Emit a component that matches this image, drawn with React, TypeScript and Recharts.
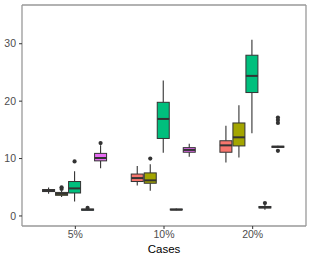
import { Bar, BarChart, XAxis, YAxis } from "recharts";

const cases = ["5%", "10%", "20%"];
const seriesColors = ["#F8766D", "#A3A500", "#00BF7D", "#00B0F6", "#E76BF3"];
const yTicks = [0, 10, 20, 30];

// per case: [lower whisker, q1, median, q3, upper whisker]
const redStats = [
  [3.85, 4.25, 4.4, 4.6, 4.95],
  [5.3, 6.0, 6.6, 7.3, 8.7],
  [9.3, 11.1, 12.3, 13.1, 15.7],
];
const oliveStats = [
  [3.3, 3.6, 3.85, 4.1, 4.4],
  [4.4, 5.7, 6.2, 7.5, 9.0],
  [10.2, 12.2, 13.7, 16.2, 19.3],
];
const greenStats = [
  [2.5, 4.0, 4.8, 6.0, 7.8],
  [11.0, 13.5, 16.9, 19.8, 23.6],
  [14.4, 21.5, 24.4, 28.0, 30.7],
];
const blueStats = [
  [0.95, 1.0, 1.1, 1.2, 1.25],
  [1.0, 1.05, 1.1, 1.2, 1.3],
  [1.1, 1.4, 1.5, 1.65, 1.9],
];
const purpleStats = [
  [8.3, 9.6, 10.1, 10.9, 12.3],
  [10.3, 11.1, 11.5, 11.9, 12.6],
  [11.85, 11.95, 12.05, 12.15, 12.25],
];

const redOutliers = [[], [], []];
const oliveOutliers = [[4.7, 5.0], [10.0], []];
const greenOutliers = [[9.5], [], []];
const blueOutliers = [[1.4], [], [2.25]];
const purpleOutliers = [[12.7], [], [11.35, 16.2, 16.7, 17.15]];

const allStats = [redStats, oliveStats, greenStats, blueStats, purpleStats];
const allOutliers = [redOutliers, oliveOutliers, greenOutliers, blueOutliers, purpleOutliers];

const rows = cases.map((c, ci) => {
  const row: any = { cases: c };
  allStats.forEach((st, si) => {
    const s = st[ci];
    const o = allOutliers[si][ci];
    const vals = [...s, ...o];
    row[`r${si}`] = [Math.min(...vals), Math.max(...vals)];
    row[`s${si}`] = { stats: s, out: o };
  });
  return row;
});

const dark = "#333333";
const border = "#999999";

function BoxShape(props: any) {
  const { x, y, width, height, payload, fill, idx } = props;
  const info = payload[`s${idx}`];
  const [lo, hi] = payload[`r${idx}`];
  const top = Math.min(y, y + height);
  const bot = Math.max(y, y + height);
  const py = (v: number) => (hi === lo ? (top + bot) / 2 : bot - ((v - lo) / (hi - lo)) * (bot - top));
  const [wl, q1, med, q3, wh] = info.stats;
  const cx = x + width / 2;
  return (
    <g>
      <line x1={cx} x2={cx} y1={py(wh)} y2={py(q3)} stroke={dark} strokeWidth={1.1} />
      <line x1={cx} x2={cx} y1={py(q1)} y2={py(wl)} stroke={dark} strokeWidth={1.1} />
      <rect
        x={x + 0.5}
        y={py(q3)}
        width={width - 1}
        height={Math.max(py(q1) - py(q3), 0.5)}
        fill={fill}
        stroke={dark}
        strokeWidth={1}
      />
      <line x1={x + 0.5} x2={x + width - 0.5} y1={py(med)} y2={py(med)} stroke={dark} strokeWidth={2} />
      {info.out.map((v: number, i: number) => (
        <circle key={i} cx={cx} cy={py(v)} r={2.1} fill={dark} />
      ))}
    </g>
  );
}

export default function App() {
  return (
    <div style={{ position: "absolute", left: 0, top: 0, fontFamily: "'Liberation Sans', Arial, sans-serif" }}>
      <BarChart
        width={311}
        height={259}
        data={rows}
        margin={{ top: 4, right: 4, bottom: 0, left: 0 }}
        barCategoryGap="12.5%"
        barGap={0}
      >
        <XAxis
          dataKey="cases"
          height={33}
          padding={{ left: 9, right: 9 }}
          axisLine={{ stroke: border, strokeWidth: 1.3 }}
          tickLine={{ stroke: dark }}
          tickSize={3}
          tickMargin={2}
          tick={{ fill: "#4D4D4D", fontSize: 10.5 }}
          label={{ value: "Cases", position: "insideBottom", offset: 6, fill: "#000000", fontSize: 11.5 }}
        />
        <XAxis
          xAxisId="top"
          dataKey="cases"
          orientation="top"
          height={1}
          tick={false}
          tickLine={false}
          axisLine={{ stroke: border, strokeWidth: 1.3 }}
        />
        <YAxis
          width={22}
          domain={[-1.75, 36.75]}
          ticks={yTicks}
          allowDataOverflow
          axisLine={{ stroke: border, strokeWidth: 1.3 }}
          tickLine={{ stroke: dark }}
          tickSize={3}
          tickMargin={3}
          tick={{ fill: "#4D4D4D", fontSize: 10.5 }}
        />
        <YAxis
          yAxisId="right"
          orientation="right"
          width={1}
          domain={[-1.75, 36.75]}
          tick={false}
          tickLine={false}
          axisLine={{ stroke: border, strokeWidth: 1.3 }}
        />
        {seriesColors.map((c, i) => (
          <Bar
            key={i}
            dataKey={`r${i}`}
            fill={c}
            isAnimationActive={false}
            shape={(p: any) => <BoxShape {...p} idx={i} />}
          />
        ))}
      </BarChart>
    </div>
  );
}
